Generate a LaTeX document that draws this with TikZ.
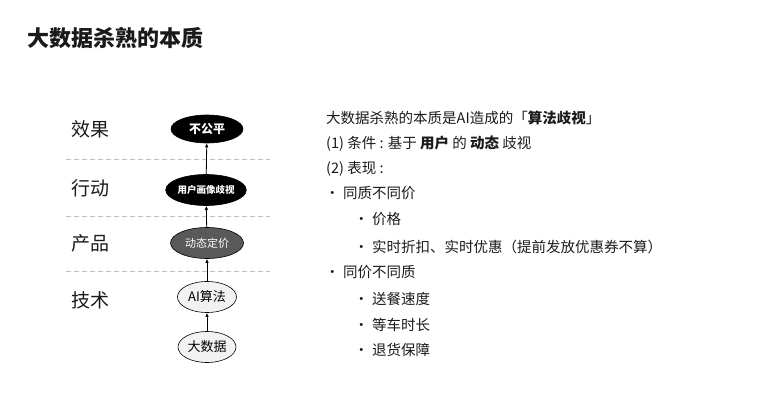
\documentclass[tikz,border=0pt]{standalone}
\usepackage{fontspec}
\setmainfont{Noto Sans CJK SC}
\usetikzlibrary{shapes.geometric,arrows.meta}
\definecolor{txt}{HTML}{1A1A1A}
\definecolor{dgray}{HTML}{595959}
\definecolor{lgray}{HTML}{F2F2F2}
\definecolor{sepgray}{HTML}{BFBFBF}
\tikzset{
  oval/.style={ellipse, draw=black, line width=0.6pt, inner sep=0pt, minimum width=#1, minimum height=31pt},
  dark/.style={fill=black, text=white, font=\bfseries\fontsize{12}{12}\selectfont},
  light/.style={fill=lgray, text=black, font=\fontsize{13}{13}\selectfont},
  layer/.style={anchor=west, text=txt, font=\fontsize{19}{19}\selectfont, inner sep=0pt},
  line/.style={anchor=west, text=txt, font=\fontsize{14.5}{14.5}\selectfont, inner sep=0pt, text height=12.5pt, text depth=1.5pt},
  sepline/.style={draw=sepgray, dash pattern=on 5pt off 3pt, line width=0.7pt},
  up/.style={-{Latex[length=4pt,width=3.5pt]}, line width=0.8pt}
}
\begin{document}
\begin{tikzpicture}[x=1pt,y=-1pt]
\useasboundingbox (0,0) rectangle (763,420);
\node[anchor=west, inner sep=0pt, text=txt, font=\bfseries\fontsize{22}{22}\selectfont] (title) at (27,38) {大数据杀熟的本质};
% layers
\node[layer] (l1) at (71,129) {效果};
\node[layer] (l2) at (71,188) {行动};
\node[layer] (l3) at (71,243) {产品};
\node[layer] (l4) at (71,300) {技术};
\coordinate (d1a) at (66,159); \coordinate (d1b) at (270,159);
\coordinate (d2a) at (66,216); \coordinate (d2b) at (270,216);
\coordinate (d3a) at (66,271); \coordinate (d3b) at (270,271);
\draw[sepline] (d1a) -- (d1b);
\draw[sepline] (d2a) -- (d2b);
\draw[sepline] (d3a) -- (d3b);
% nodes
\node[oval=72pt, dark, minimum height=28pt] (n1) at (207,129) {不公平};
\node[oval=73pt, dark, font=\bfseries\fontsize{9.5}{9.5}\selectfont] (n2) at (206,190) {用户画像歧视};
\node[oval=73pt, fill=dgray, text=white, font=\fontsize{11}{11}\selectfont] (n3) at (207,243) {动态定价};
\node[oval=59pt, light] (n4) at (207,297) {AI算法};
\node[oval=58pt, light] (n5) at (207,347) {大数据};
\draw[up] (n5) -- (n4);
\draw[up] (n4) -- (n3);
\draw[up] (n3) -- (n2);
\draw[up] (n2) -- (n1);
% right text
\node[line] (t1) at (326,118) {大数据杀熟的本质是AI造成的「\textbf{算法歧视}」};
\node[line] (t2) at (326,143) {(1) 条件 : 基于 \textbf{用户} 的 \textbf{动态} 歧视};
\node[line] (t3) at (326,168) {(2) 表现 :};
\node[line] (b4) at (325,193) {•};
\node[line] (t4) at (343,193) {同质不同价};
\node[line] (b5) at (354,219) {•};
\node[line] (t5) at (372,219) {价格};
\node[line] (b6) at (354,247) {•};
\node[line] (t6) at (372,247) {实时折扣、实时优惠（提前发放优惠券不算）};
\node[line] (b7) at (325,272) {•};
\node[line] (t7) at (343,272) {同价不同质};
\node[line] (b8) at (354,299) {•};
\node[line] (t8) at (372,299) {送餐速度};
\node[line] (b9) at (354,325) {•};
\node[line] (t9) at (372,325) {等车时长};
\node[line] (b10) at (354,350) {•};
\node[line] (t10) at (372,350) {退货保障};
\end{tikzpicture}
\end{document}
